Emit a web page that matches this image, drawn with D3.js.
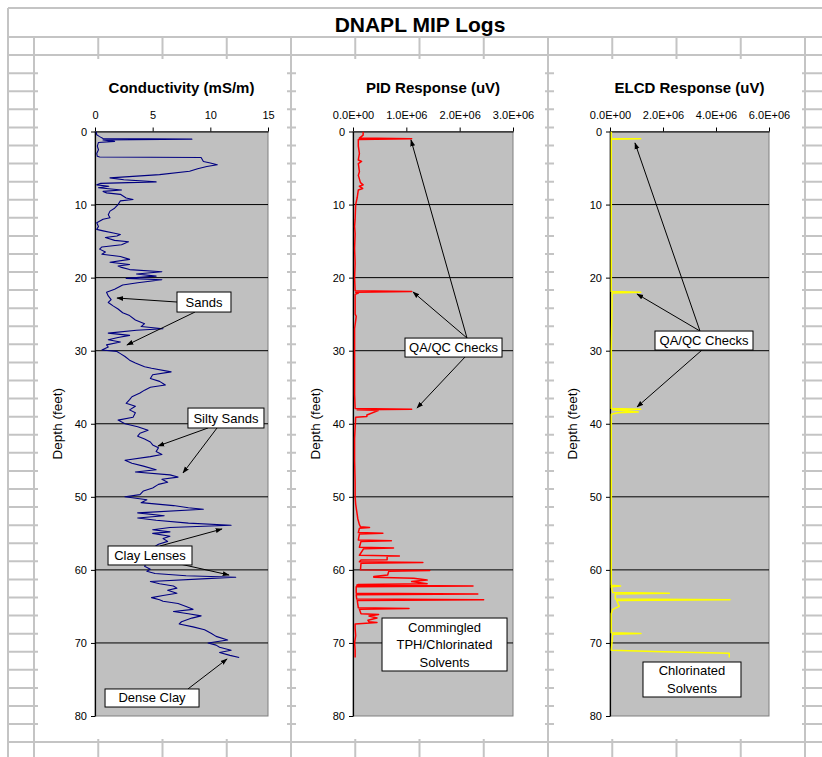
<!DOCTYPE html>
<html><head><meta charset="utf-8">
<script src="https://cdn.jsdelivr.net/npm/d3@7"></script>
<style>body{margin:0;background:#fff}svg{display:block}</style>
</head><body>
<svg id="c" width="822" height="757"></svg>
<script>
// ---------- DATA ----------
const chartTitle = "DNAPL MIP Logs";
const panelTitles = ["Conductivity (mS/m)", "PID Response (uV)", "ELCD Response (uV)"];
const depthLabel = "Depth (feet)";
const depthTicks = [0, 10, 20, 30, 40, 50, 60, 70, 80];
const condTicks = [0, 5, 10, 15];
const pidTicks = [0, 1e6, 2e6, 3e6];
const elcdTicks = [0, 2e6, 4e6, 6e6];

const condDepth = [0,0.45,0.7,0.95,1.05,1.15,1.35,1.5,2.0,2.5,3.0,3.4,3.5,3.55,4.1,4.3,4.55,4.8,5.1,5.45,5.9,6.35,6.6,6.9,7.1,7.3,7.5,7.7,8.0,8.2,8.4,8.6,9.1,9.3,9.5,10.0,10.5,10.9,11.4,11.8,12.0,12.5,13.0,13.4,13.6,13.9,14.1,14.3,14.5,14.9,15.1,15.5,15.8,16.1,16.5,16.8,17.1,17.5,17.9,18.2,18.4,18.6,18.9,19.2,19.5,19.8,20.1,20.3,20.7,21.0,21.6,22.0,22.5,23.0,23.4,23.9,24.3,24.8,25.2,25.8,26.3,26.7,27.0,27.2,27.6,27.9,28.2,28.5,28.8,29.2,29.5,29.9,30.1,30.4,30.8,31.3,31.7,32.2,32.4,32.9,33.3,33.8,34.2,34.7,35.0,35.4,35.8,36.3,36.7,37.2,37.6,38.1,38.5,39.1,39.5,40.0,40.4,40.9,41.3,41.7,42.1,42.5,42.9,43.3,43.8,44.2,44.5,45.0,45.4,45.8,46.3,46.6,47.0,47.3,47.6,48.0,48.3,48.8,49.2,49.7,50.0,50.4,50.8,51.2,51.5,51.7,52.2,52.6,52.9,53.2,53.6,53.9,54.2,54.5,54.8,55.0,55.4,55.7,56.1,56.5,57.0,57.5,58.0,58.5,59.0,59.5,59.9,60.2,60.5,60.8,61.0,61.2,61.6,61.9,62.2,62.5,62.8,63.2,63.5,63.8,64.1,64.3,64.6,65.0,65.4,65.7,66.0,66.3,66.6,67.1,67.4,67.8,68.2,68.7,69.1,69.6,70.0,70.3,70.6,71.0,71.3,71.7,72.0];
const condValue = [0.1,0.15,0.4,0.7,8.4,0.7,1.7,0.3,0.2,0.3,0.15,0.2,0.4,9.2,9.4,10.0,10.6,9.7,8.9,8.2,5.6,1.3,2.5,5.3,0.5,0.15,1.2,0.3,2.3,0.7,1.0,2.2,2.7,3.3,2.2,2.0,1.7,1.3,1.15,1.3,0.7,0.15,0.3,0.15,0.7,1.6,2.2,1.9,0.9,1.7,2.9,2.3,0.6,0.4,0.9,0.6,2.2,3.0,1.3,3.0,2.0,2.3,3.0,5.8,3.6,5.3,2.7,5.8,3.7,2.4,1.7,1.0,1.15,1.4,1.15,1.6,2.0,2.4,3.0,3.5,4.3,4.0,5.9,3.6,1.15,3.0,2.0,1.15,2.2,1.0,1.15,0.6,1.9,2.2,2.6,3.0,3.5,4.3,4.9,6.6,5.0,4.8,5.6,6.1,4.8,4.3,3.9,3.2,3.0,2.7,3.5,3.0,3.5,3.3,2.0,2.6,3.7,4.6,3.9,3.7,4.3,4.8,5.0,5.5,5.3,5.8,4.8,2.6,3.2,4.2,5.3,3.5,6.5,7.2,5.8,6.3,5.5,5.0,4.2,3.9,2.6,4.5,4.0,6.8,8.1,9.4,3.7,6.0,3.7,5.3,8.1,11.8,6.5,5.0,6.5,5.0,6.5,5.9,6.3,5.5,5.0,4.6,4.8,4.3,4.5,4.3,4.8,4.5,5.2,7.9,12.2,9.7,4.8,5.6,6.8,7.1,6.3,7.1,5.9,4.9,5.6,5.9,7.2,7.9,8.5,6.8,8.1,9.2,8.4,7.5,7.3,8.5,9.5,10.1,10.5,11.5,9.8,10.5,10.8,11.8,10.8,11.7,12.5];

const pidDepth = [0,0.5,0.9,1.0,1.1,2,3,3.9,4.1,4.4,5.5,6,7,7.3,7.5,7.8,8,9,10,12,13,14,16,18,20,21.8,21.9,22.0,22.1,22.3,25,25.3,27,30,33,36,37.9,38.0,38.1,38.2,38.8,39.0,39.1,42,45,48,50,51,52,53,53.8,54.1,54.2,54.3,54.9,55.0,55.1,55.9,56.0,56.1,56.9,57.0,57.1,58.0,58.1,58.15,58.6,58.65,58.9,59.0,59.1,60.0,60.1,60.2,60.7,60.9,61.0,61.15,61.4,61.6,61.9,62.0,62.1,62.2,62.3,63.2,63.3,63.4,64.0,64.1,64.2,65.2,65.3,65.4,66.0,66.1,66.3,66.6,66.9,67.1,67.2,67.4,68,69,70,71,72];
const pidValue = [0.19e6,0.19e6,0.12e6,1.1e6,0.1e6,0.1e6,0.12e6,0.1e6,0.16e6,0.1e6,0.12e6,0.1e6,0.14e6,0.19e6,0.12e6,0.18e6,0.1e6,0.08e6,0.05e6,0.04e6,0.03e6,0.04e6,0.03e6,0.04e6,0.03e6,0.04e6,1.1e6,0.05e6,0.1e6,0.04e6,0.04e6,0.06e6,0.03e6,0.03e6,0.03e6,0.03e6,0.04e6,1.1e6,0.08e6,0.47e6,0.26e6,0.26e6,0.05e6,0.03e6,0.03e6,0.04e6,0.04e6,0.05e6,0.07e6,0.09e6,0.12e6,0.14e6,0.31e6,0.12e6,0.1e6,0.56e6,0.12e6,0.1e6,0.72e6,0.15e6,0.12e6,0.76e6,0.2e6,0.12e6,0.87e6,0.64e6,0.64e6,0.15e6,0.12e6,1.31e6,0.15e6,0.14e6,1.44e6,0.67e6,0.65e6,0.39e6,0.39e6,1.14e6,1.39e6,1.1e6,1.39e6,0.1e6,0.07e6,2.25e6,0.06e6,0.06e6,2.34e6,0.06e6,0.07e6,2.45e6,0.08e6,0.1e6,1.05e6,0.12e6,0.15e6,0.48e6,0.3e6,0.45e6,0.28e6,0.3e6,0.45e6,0.04e6,0.04e6,0.05e6,0.03e6,0.04e6,0.04e6];

const elcdDepth = [0,0.95,1.0,1.05,10,21.9,22.0,22.1,30,37.9,38.0,38.1,38.4,38.5,38.7,50,62.1,62.2,62.3,63.1,63.2,63.3,64.0,64.1,64.2,64.6,65.0,65.4,66,68.6,68.7,68.8,71.0,71.2,71.4,72.0];
const elcdValue = [0.05e6,0.05e6,1.16e6,0.05e6,0.05e6,0.05e6,1.16e6,0.08e6,0.05e6,0.05e6,1.16e6,0.1e6,1.07e6,0.3e6,0.05e6,0.05e6,0.05e6,0.4e6,0.05e6,0.1e6,2.24e6,0.2e6,0.2e6,4.53e6,0.25e6,0.3e6,0.35e6,0.1e6,0.05e6,0.05e6,1.17e6,0.1e6,0.05e6,2.0e6,4.5e6,4.5e6];

// annotations in data units: box [v0,d0,v1,d1], arrows [vFrom,dFrom,vTo,dTo]
const condNotes = [
  {text:["Sands"], box:[7.11,21.97,11.79,24.71], arrows:[[7.11,23.34,1.91,22.79],[8.67,24.71,2.77,29.22]]},
  {text:["Silty Sands"], box:[8.06,37.85,14.65,40.58], arrows:[[9.8,40.58,5.46,43.05],[10.58,40.58,7.63,46.74]]},
  {text:["Clay Lenses"], box:[1.13,56.73,8.41,59.33], arrows:[[5.64,56.73,11.01,54.41],[7.37,59.2,11.62,60.7]]},
  {text:["Dense Clay"], box:[0.87,76.3,9.02,78.77], arrows:[[8.06,76.3,11.45,72.2]]}
];
const pidNotes = [
  {text:["QA/QC Checks"], box:[0.975e6,28.27,2.794e6,30.87], arrows:[[2.1375e6,28.27,1.0875e6,1.16],[2.1375e6,28.27,1.125e6,21.97],[2.1e6,30.87,1.2e6,37.85]]},
  {text:["Commingled","TPH/Chlorinated","Solvents"], box:[0.544e6,66.59,2.888e6,73.84], arrows:[]}
];
const elcdNotes = [
  {text:["QA/QC Checks"], box:[1.698e6,27.31,5.396e6,29.91], arrows:[[3.396e6,27.31,0.943e6,1.57],[3.396e6,27.31,1.019e6,22.24],[3.472e6,29.91,1.019e6,37.7]]},
  {text:["Chlorinated","Solvents"], box:[1.245e6,72.61,4.943e6,77.4], arrows:[]}
];

// ---------- DRAW ----------
const FONT = "'Liberation Sans', Arial, Helvetica, sans-serif";
const svg = d3.select("#c").style("font-family", FONT);

// spreadsheet grid behind charts
const grid = svg.append("g").attr("stroke", "#C4C4C4").attr("stroke-width", 2);
const rowH = 18.08, colW = 64.25;
grid.append("line").attr("x1", 8).attr("x2", 822).attr("y1", 8).attr("y2", 8);
grid.append("line").attr("x1", 8).attr("x2", 8).attr("y1", 8).attr("y2", 757);
d3.range(0, 40).forEach(k => grid.append("line").attr("x1", 8).attr("x2", 822)
  .attr("y1", 37 + k * rowH).attr("y2", 37 + k * rowH));
d3.range(0, 13).forEach(k => grid.append("line").attr("x1", 34 + k * colW).attr("x2", 34 + k * colW)
  .attr("y1", 37).attr("y2", 757));

svg.append("text").attr("x", 420).attr("y", 32).attr("text-anchor", "middle")
  .attr("font-size", 21).attr("font-weight", "bold").attr("fill", "#000").text(chartTitle);

// arrow marker
svg.append("defs").append("marker").attr("id", "ah").attr("viewBox", "0 0 10 10")
  .attr("refX", 9).attr("refY", 5).attr("markerWidth", 7).attr("markerHeight", 7)
  .attr("markerUnits", "userSpaceOnUse").attr("orient", "auto")
  .append("path").attr("d", "M0,1.5 L10,5 L0,8.5 Z").attr("fill", "#000");

function sciFmt(v) {
  const e = v === 0 ? 0 : Math.floor(Math.log10(v) + 1e-9);
  const m = v / Math.pow(10, e);
  return m.toFixed(1) + "E+" + String(e).padStart(2, "0");
}

const panels = [
  {title: panelTitles[0], depth: condDepth, value: condValue, ticks: condTicks, domain: [0, 15], fmt: d3.format("d"),
   color: "#000080", lw: 1.1, area: [38, 59, 249, 680], plot: [95, 268], notes: condNotes},
  {title: panelTitles[1], depth: pidDepth, value: pidValue, ticks: pidTicks, domain: [0, 3e6], fmt: sciFmt,
   color: "#FF0000", lw: 1.5, area: [296, 59, 249, 680], plot: [353, 513], notes: pidNotes},
  {title: panelTitles[2], depth: elcdDepth, value: elcdValue, ticks: elcdTicks, domain: [0, 6e6], fmt: sciFmt,
   color: "#FFFF00", lw: 1.5, area: [554, 59, 248, 680], plot: [610, 769], notes: elcdNotes}
];
const plotTop = 131.5, plotBottom = 716;

panels.forEach((p, i) => {
  const g = svg.append("g");
  g.append("rect").attr("x", p.area[0]).attr("y", p.area[1]).attr("width", p.area[2]).attr("height", p.area[3])
    .attr("fill", "#fff");
  const x = d3.scaleLinear().domain(p.domain).range(p.plot);
  const y = d3.scaleLinear().domain([0, 80]).range([plotTop, plotBottom]);

  g.append("rect").attr("x", p.plot[0]).attr("y", plotTop).attr("width", p.plot[1] - p.plot[0])
    .attr("height", plotBottom - plotTop).attr("fill", "#C0C0C0").attr("stroke", "#808080").attr("stroke-width", 1);

  // horizontal gridlines
  g.append("g").selectAll("line").data(depthTicks.slice(1, -1)).join("line")
    .attr("x1", p.plot[0]).attr("x2", p.plot[1]).attr("y1", d => y(d)).attr("y2", d => y(d))
    .attr("stroke", "#000").attr("stroke-width", 1);

  // axes
  const ax = g.append("g").attr("transform", `translate(0,${plotTop})`)
    .call(d3.axisTop(x).tickValues(p.ticks).tickSize(4).tickSizeOuter(0).tickPadding(9).tickFormat(p.fmt));
  const ay = g.append("g").attr("transform", `translate(${p.plot[0]},0)`)
    .call(d3.axisLeft(y).tickValues(depthTicks).tickSize(4).tickSizeOuter(0).tickPadding(4).tickFormat(d3.format("d")));
  [ax, ay].forEach(a => {
    a.selectAll("path.domain").attr("stroke", "#000").attr("stroke-width", 1.2);
    a.selectAll(".tick line").attr("stroke", "#000");
    a.selectAll(".tick text").attr("font-size", 11).attr("font-family", FONT).attr("fill", "#000");
  });

  // data line
  const clipId = "clip" + i;
  g.append("clipPath").attr("id", clipId).append("rect").attr("x", p.plot[0]).attr("y", plotTop)
    .attr("width", p.plot[1] - p.plot[0]).attr("height", plotBottom - plotTop);
  const pts = p.depth.map((d, k) => [p.value[k], d]);
  g.append("path").datum(pts).attr("clip-path", `url(#${clipId})`)
    .attr("d", d3.line().x(d => x(d[0])).y(d => y(d[1])))
    .attr("fill", "none").attr("stroke", p.color).attr("stroke-width", p.lw).attr("stroke-linejoin", "round");

  // titles
  g.append("text").attr("x", (p.plot[0] + p.plot[1]) / 2).attr("y", 93).attr("text-anchor", "middle")
    .attr("font-size", 15).attr("font-weight", "bold").text(p.title);
  g.append("text").attr("transform", `translate(${p.plot[0] - 33},${(plotTop + plotBottom) / 2}) rotate(-90)`)
    .attr("text-anchor", "middle").attr("font-size", 13.5).text(depthLabel);

  // annotations
  p.notes.forEach(n => {
    n.arrows.forEach(a => {
      g.append("line").attr("x1", x(a[0])).attr("y1", y(a[1])).attr("x2", x(a[2])).attr("y2", y(a[3]))
        .attr("stroke", "#000").attr("stroke-width", 1).attr("marker-end", "url(#ah)");
    });
    const bx0 = x(n.box[0]), by0 = y(n.box[1]), bx1 = x(n.box[2]), by1 = y(n.box[3]);
    g.append("rect").attr("x", bx0).attr("y", by0).attr("width", bx1 - bx0).attr("height", by1 - by0)
      .attr("fill", "#fff").attr("stroke", "#000").attr("stroke-width", 1);
    const lh = 17.5, cy = (by0 + by1) / 2, n0 = n.text.length;
    n.text.forEach((t, k) => {
      g.append("text").attr("x", (bx0 + bx1) / 2).attr("y", cy + (k - (n0 - 1) / 2) * lh + 4.5)
        .attr("text-anchor", "middle").attr("font-size", 13).text(t);
    });
  });
});
</script>
</body></html>
